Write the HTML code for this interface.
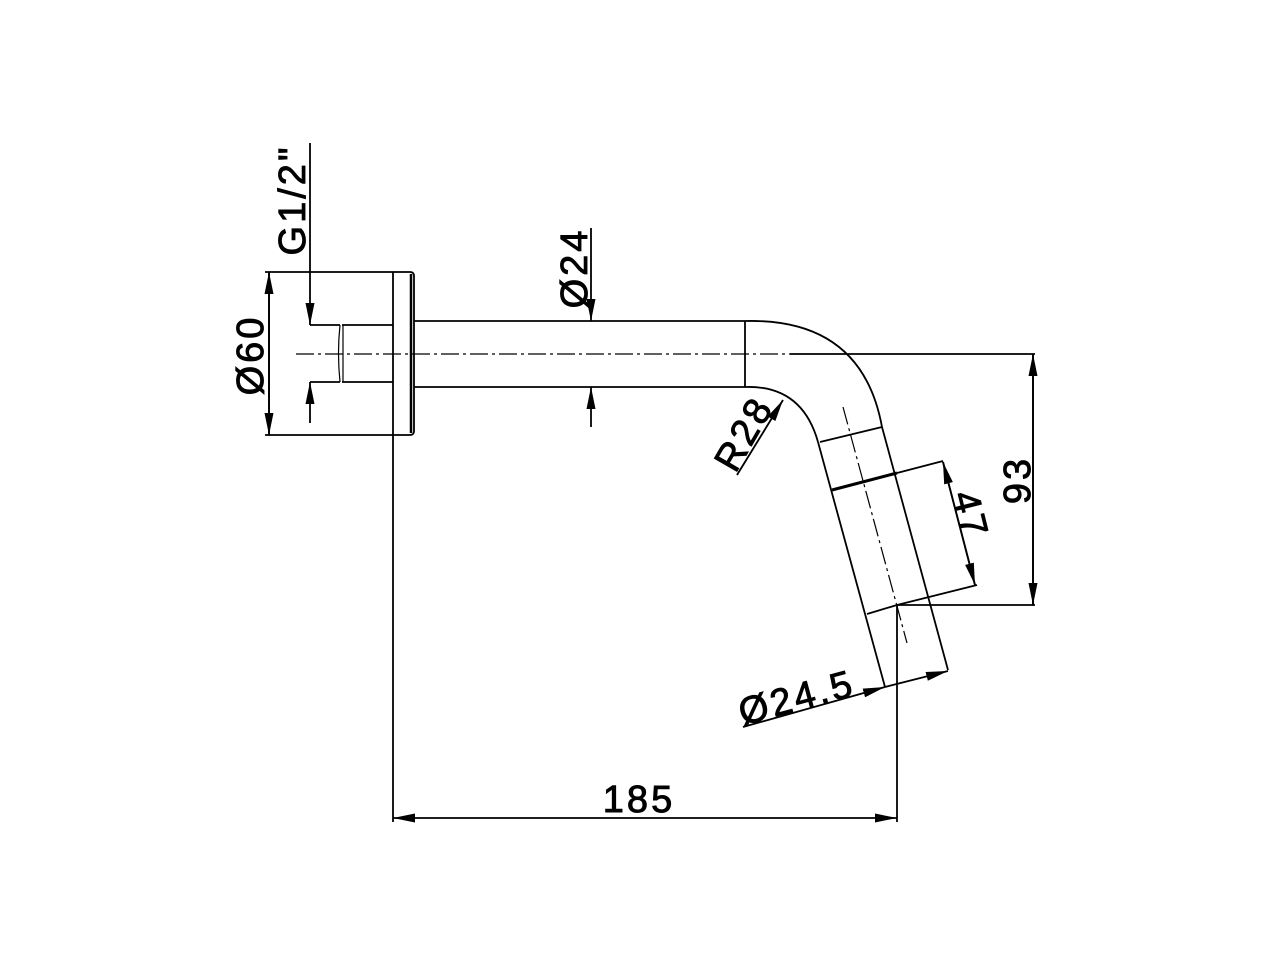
<!DOCTYPE html>
<html><head><meta charset="utf-8"><style>html,body{margin:0;padding:0;background:#fff}svg{display:block}</style></head>
<body>
<svg width="1280" height="960" viewBox="0 0 1280 960" xmlns="http://www.w3.org/2000/svg" font-family="Liberation Sans, sans-serif" font-size="38">
<defs>
<marker id="a" viewBox="0 0 22 9" refX="22" refY="4.5" markerWidth="22" markerHeight="9" markerUnits="userSpaceOnUse" orient="auto"><path d="M0,0 L22,4.5 L0,9 z" fill="#000"/></marker>
</defs>
<g fill="none" stroke="#000" stroke-width="1.8">
<path d="M265,272 H410 Q414,272 414,276 V431 Q414,435 410,435 H265"/>
<line x1="393" y1="272" x2="393" y2="435"/>
<line x1="411" y1="274" x2="411" y2="433" stroke-width="2.5"/>
<path d="M310,325 H340 M310,382 H340 M342,325 H393 M342,382 H393"/>
<path d="M340,325 Q337,353 340,382 M343,325 V382" stroke-width="1.2"/>
<line x1="414" y1="321" x2="745" y2="321"/>
<line x1="414" y1="387" x2="745" y2="387"/>
<line x1="745" y1="321" x2="745" y2="387"/>
<path d="M745,321 Q862,318 882,427"/>
<path d="M745,387 Q802,385 818,442"/>
<line x1="882" y1="427" x2="948" y2="670"/>
<line x1="818" y1="442" x2="885" y2="687"/>
<line x1="820" y1="442" x2="882" y2="427"/>
<line x1="832" y1="490" x2="897" y2="473" stroke-width="3"/>
<line x1="897" y1="473" x2="943" y2="461"/>
<line x1="867" y1="614" x2="897" y2="605"/>
<line x1="897" y1="605" x2="977" y2="585"/>
<line x1="296" y1="354" x2="790" y2="354" stroke-width="1.2" stroke-dasharray="18,4,3,4"/>
<line x1="843" y1="407" x2="907" y2="643" stroke-width="1.2" stroke-dasharray="18,4,3,4"/>
<line x1="269" y1="435" x2="269" y2="272" marker-end="url(#a)"/>
<line x1="269" y1="272" x2="269" y2="435" marker-end="url(#a)"/>
<line x1="310" y1="143" x2="310" y2="325" marker-end="url(#a)"/>
<line x1="310" y1="423" x2="310" y2="382" marker-end="url(#a)"/>
<line x1="591" y1="228" x2="591" y2="321" marker-end="url(#a)"/>
<line x1="591" y1="427" x2="591" y2="387" marker-end="url(#a)"/>
<line x1="790" y1="354" x2="1035" y2="354"/>
<line x1="897" y1="605" x2="1035" y2="605"/>
<line x1="1033" y1="605" x2="1033" y2="354" marker-end="url(#a)"/>
<line x1="1033" y1="354" x2="1033" y2="605" marker-end="url(#a)"/>
<line x1="975" y1="585" x2="943" y2="462" marker-end="url(#a)"/>
<line x1="943" y1="462" x2="975" y2="585" marker-end="url(#a)"/>
<line x1="737" y1="475" x2="783" y2="400" marker-end="url(#a)"/>
<line x1="743" y1="727" x2="885" y2="687" marker-end="url(#a)"/>
<line x1="885" y1="687" x2="948" y2="671" marker-end="url(#a)"/>
<line x1="393" y1="435" x2="393" y2="822"/>
<line x1="897" y1="605" x2="897" y2="822"/>
<line x1="600" y1="818" x2="393" y2="818" marker-end="url(#a)"/>
<line x1="600" y1="818" x2="897" y2="818" marker-end="url(#a)"/>
</g>
<g fill="#000" stroke="#000" stroke-width="0.9" letter-spacing="3">
<text x="639" y="812" text-anchor="middle">185</text>
<text transform="translate(263,355) rotate(-90)" text-anchor="middle">Ø60</text>
<text transform="translate(305,200) rotate(-90)" text-anchor="middle">G1/2"</text>
<text transform="translate(587,268) rotate(-90)" text-anchor="middle">Ø24</text>
<text transform="translate(1030,480) rotate(-90)" text-anchor="middle">93</text>
<text transform="translate(958,518) rotate(76)" text-anchor="middle">47</text>
<text transform="translate(755,440) rotate(-60)" text-anchor="middle">R28</text>
<text transform="translate(800,710) rotate(-15)" text-anchor="middle">Ø24.5</text>
</g>
</svg>
</body></html>
